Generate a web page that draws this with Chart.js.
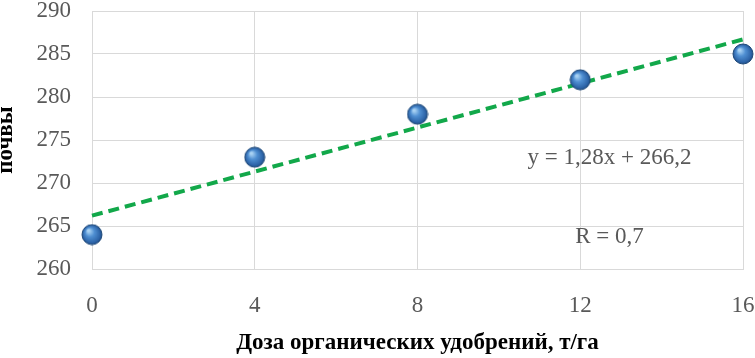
<!DOCTYPE html>
<html>
<head>
<meta charset="utf-8">
<script src="https://cdn.jsdelivr.net/npm/chart.js@4.4.1/dist/chart.umd.min.js"></script>
<style>
  body { margin: 0; background: #fff; }
  canvas { display: block; }
</style>
</head>
<body>
<canvas id="chart-dose" width="755" height="358"></canvas>
<script>
// data
var doses = [0, 4, 8, 12, 16];
var soilValues = [264, 273, 278, 282, 285];
var trendDoses = [0, 16];
var trendValues = [266.2, 286.7];
var equationText = "y = 1,28x + 266,2";
var rText = "R = 0,7";
var xTitle = "Доза органических удобрений, т/га";
var yTitle = "почвы";

// blue "sphere" marker drawn once into a small canvas
function makeSphere(r) {
    var c = document.createElement('canvas');
    c.width = c.height = r * 2 + 2;
    var g = c.getContext('2d');
    var cx = r + 1, cy = r + 1;
    var grad = g.createRadialGradient(cx - r * 0.35, cy - r * 0.4, 1, cx, cy, r);
    grad.addColorStop(0, '#a9d2f3');
    grad.addColorStop(0.4, '#4f8fd2');
    grad.addColorStop(0.85, '#2d64a8');
    grad.addColorStop(1, '#1f4c85');
    g.beginPath();
    g.arc(cx, cy, r, 0, Math.PI * 2);
    g.fillStyle = grad;
    g.fill();
    g.lineWidth = 1;
    g.strokeStyle = '#1f4a7a';
    g.stroke();
    return c;
}

var scatterPts = doses.map(function(d, i) { return {x: d, y: soilValues[i]}; });
var trendPts = trendDoses.map(function(d, i) { return {x: d, y: trendValues[i]}; });

// text labels of the trendline
var trendLabels = {
    id: 'trendLabels',
    afterDatasetsDraw: function(chart) {
        var ctx = chart.ctx;
        var xs = chart.scales.x, ys = chart.scales.y;
        ctx.save();
        ctx.font = '23px "Liberation Serif"';
        ctx.fillStyle = '#595959';
        ctx.textAlign = 'center';
        ctx.textBaseline = 'middle';
        ctx.fillText(equationText, xs.getPixelForValue(12.72), ys.getPixelForValue(272.9));
        ctx.fillText(rText, xs.getPixelForValue(12.72), ys.getPixelForValue(263.7));
        ctx.restore();
    }
};

var gridColor = '#d9d9d9';

var ctx = document.getElementById('chart-dose');
var doseChart = new Chart(ctx, {
    type: 'scatter',
    data: {
        datasets: [
            {
                label: 'trend',
                type: 'line',
                data: trendPts,
                borderColor: '#12a84a',
                borderWidth: 4,
                borderDash: [11, 6],
                pointRadius: 0,
                fill: false,
                clip: false,
                order: 2
            }, {
                label: 'values',
                data: scatterPts,
                pointStyle: makeSphere(10),
                pointRadius: 10,
                clip: false,
                order: 1
            }
        ]
    },
    options: {
        responsive: false,
        devicePixelRatio: 1,
        animation: false,
        layout: { padding: { left: 0, right: 12, top: 8, bottom: 0 } },
        plugins: {
            legend: { display: false },
            tooltip: { enabled: false }
        },
        scales: {
            x: {
                type: 'linear',
                min: 0,
                max: 16,
                ticks: {
                    stepSize: 4,
                    padding: 23,
                    color: '#595959',
                    font: { family: 'Liberation Serif', size: 23 }
                },
                grid: { color: gridColor, drawTicks: false },
                border: { color: gridColor },
                title: {
                    display: true,
                    text: xTitle,
                    color: '#000',
                    font: { family: 'Liberation Serif', size: 23, weight: 'bold' },
                    padding: { top: 0, bottom: 1 }
                },
                afterFit: function(s) {
                    s.height = 89;
                    s.paddingLeft = 0;
                    s.paddingRight = 0;
                }
            },
            y: {
                min: 260,
                max: 290,
                ticks: {
                    stepSize: 5,
                    padding: 21,
                    color: '#595959',
                    font: { family: 'Liberation Serif', size: 23 }
                },
                grid: { color: gridColor, drawTicks: false },
                border: { color: gridColor },
                title: {
                    display: true,
                    text: yTitle,
                    color: '#000',
                    font: { family: 'Liberation Serif', size: 23, weight: 'bold' },
                    padding: { top: -8, bottom: 0 }
                },
                afterFit: function(s) {
                    s.width = 92;
                    s.paddingTop = 0;
                    s.paddingBottom = 0;
                }
            }
        }
    },
    plugins: [trendLabels]
});
</script>
</body>
</html>
